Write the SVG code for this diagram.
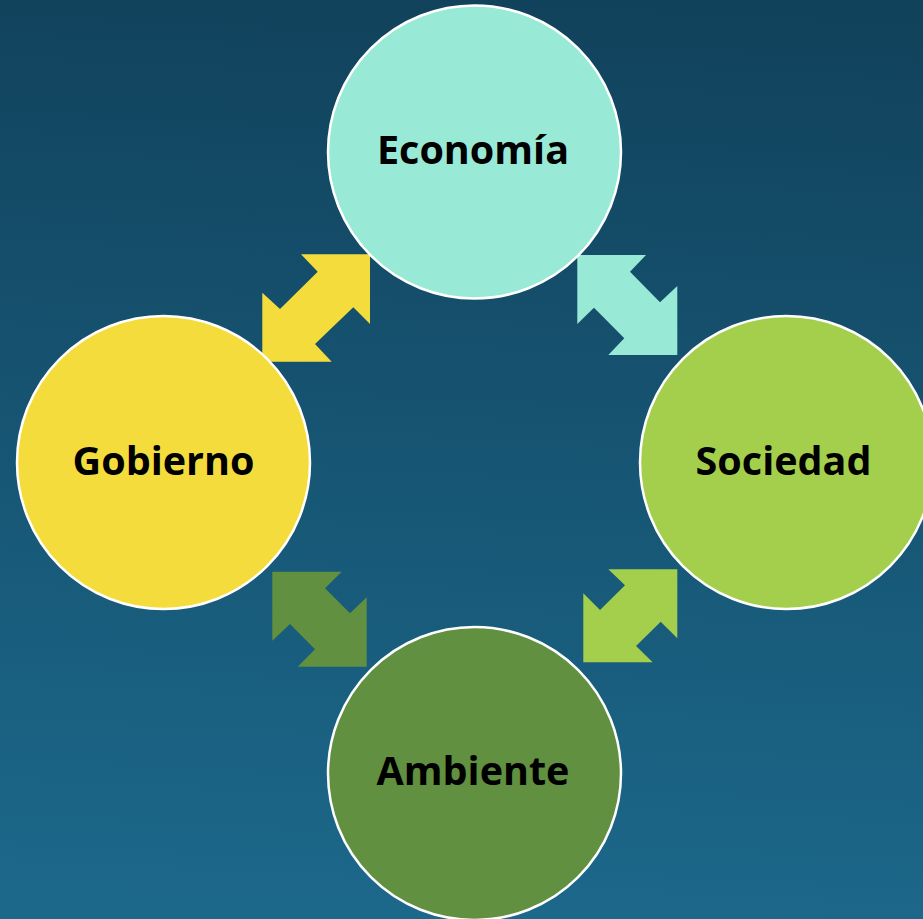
<svg xmlns="http://www.w3.org/2000/svg" width="923" height="919" viewBox="0 0 923 919">
  <defs>
    <linearGradient id="bg" x1="0.55" y1="0" x2="0.5" y2="1">
      <stop offset="0" stop-color="#11425c"/>
      <stop offset="1" stop-color="#1c688b"/>
    </linearGradient>
  </defs>
  <style>
    .node circle { stroke: #ffffff; stroke-width: 2.5; }
    .node text { font-family: "Open Sans", "Noto Sans", "Liberation Sans", sans-serif; font-weight: bold; font-size: 39.5px; fill: #000000; text-anchor: middle; }
  </style>
  <rect x="0" y="0" width="923" height="919" fill="url(#bg)"/>
  <g id="connectors">
    <polygon fill="#f4dc3c" points="301,254.3 370,254.3 370,324 353.3,307.3 315,344 331.7,361.7 262.3,361.7 262.3,292.7 280,309 317.7,271.7"/>
    <polygon fill="#98e9d6" points="577.3,255 646,255 630,271.7 660,302.3 677.3,286 677.3,355 608.3,355 624.3,338.3 594,307.7 577.3,324"/>
    <polygon fill="#609040" points="272.3,571.7 341.7,571.7 325,588.3 350,613.3 366.7,597.3 366.7,666.7 297.7,666.7 315,649.3 290,624 272.3,640.7"/>
    <polygon fill="#a3cf4c" points="608.3,569.3 677.3,569.3 677.3,638.3 660.7,621.7 636,646 652.7,662.3 583.3,662.3 583.3,593.3 600,610 625,585.3"/>
  </g>
  <g id="economia" class="node">
    <circle cx="474.5" cy="152" r="146.5" fill="#98e9d6"/>
    <text x="473" y="164">Economía</text>
  </g>
  <g id="gobierno" class="node">
    <circle cx="163.5" cy="462.5" r="146.5" fill="#f4dc3c"/>
    <text x="163.5" y="475">Gobierno</text>
  </g>
  <g id="sociedad" class="node">
    <circle cx="786.5" cy="462.5" r="146.5" fill="#a3cf4c"/>
    <text x="783.5" y="475">Sociedad</text>
  </g>
  <g id="ambiente" class="node">
    <circle cx="474.5" cy="773.5" r="146.5" fill="#609040"/>
    <text x="473" y="785">Ambiente</text>
  </g>
</svg>
